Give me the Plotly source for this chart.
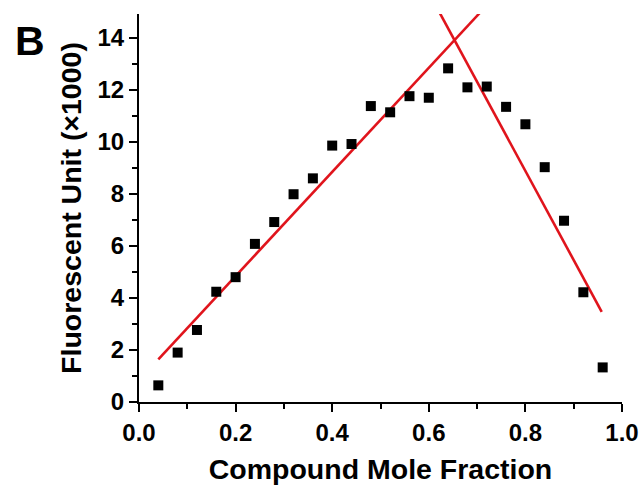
import plotly.graph_objects as go

mole_fraction = [0.04, 0.08, 0.12, 0.16, 0.20, 0.24, 0.28, 0.32, 0.36, 0.40, 0.44, 0.48,
                 0.52, 0.56, 0.60, 0.64, 0.68, 0.72, 0.76, 0.80, 0.84, 0.88, 0.92, 0.96]
fluorescence = [0.64, 1.90, 2.77, 4.24, 4.80, 6.08, 6.92, 7.99, 8.60, 9.86, 9.92, 11.38,
                11.14, 11.76, 11.70, 12.83, 12.10, 12.13, 11.35, 10.68, 9.03, 6.97, 4.22, 1.33]

fit_left_x = [0.04, 0.705]
fit_left_y = [1.64, 14.95]
fit_right_x = [0.623, 0.958]
fit_right_y = [14.95, 3.47]

x_tick_vals = [0, 0.2, 0.4, 0.6, 0.8, 1.0]
x_tick_text = ["0.0", "0.2", "0.4", "0.6", "0.8", "1.0"]
y_tick_vals = [0, 2, 4, 6, 8, 10, 12, 14]

font_family = "Liberation Sans, Arial, sans-serif"
red = "#e0141c"

fig = go.Figure()
fig.add_trace(go.Scatter(x=fit_left_x, y=fit_left_y, mode="lines",
                         line=dict(color=red, width=2.6), showlegend=False))
fig.add_trace(go.Scatter(x=fit_right_x, y=fit_right_y, mode="lines",
                         line=dict(color=red, width=2.6), showlegend=False))
fig.add_trace(go.Scatter(x=mole_fraction, y=fluorescence, mode="markers",
                         marker=dict(symbol="square", size=10, color="black"),
                         showlegend=False))

fig.update_layout(
    width=642, height=488,
    margin=dict(l=139, r=20, t=14, b=86),
    paper_bgcolor="white", plot_bgcolor="white",
    font=dict(family=font_family, color="black"),
    xaxis=dict(
        range=[0, 1.0], tickmode="array",
        tickvals=x_tick_vals, ticktext=x_tick_text,
        ticks="outside", ticklen=8, tickwidth=2, tickcolor="black",
        minor=dict(ticks="outside", ticklen=5, tickwidth=2, tickcolor="black", dtick=0.1, tick0=0),
        showline=True, linewidth=2, linecolor="black",
        showgrid=False, zeroline=False, automargin=False,
        tickfont=dict(size=24, family=font_family, weight="bold"),
        title=dict(text="<b>Compound Mole Fraction</b>", font=dict(size=28.5, family=font_family),
                   standoff=14),
    ),
    yaxis=dict(
        range=[0, 14.92], tickmode="array",
        tickvals=y_tick_vals,
        ticks="outside", ticklen=8, tickwidth=2, tickcolor="black",
        minor=dict(ticks="outside", ticklen=5, tickwidth=2, tickcolor="black", dtick=1, tick0=0),
        showline=True, linewidth=2, linecolor="black",
        showgrid=False, zeroline=False, automargin=False,
        tickfont=dict(size=24, family=font_family, weight="bold"),
        title=dict(text="<b>Fluorescent Unit (×1000)</b>", font=dict(size=28.5, family=font_family),
                   standoff=8),
    ),
    annotations=[dict(text="<b>B</b>", x=(13 - 139) / 483, y=1 + (14 - 16) / 388,
                      xref="paper", yref="paper",
                      xanchor="left", yanchor="top", showarrow=False,
                      font=dict(size=41, family=font_family, color="black"))],
)

fig.write_html("out.html", config={"displayModeBar": False},
               post_script="document.body.style.margin='0px';document.body.style.overflow='hidden';")
